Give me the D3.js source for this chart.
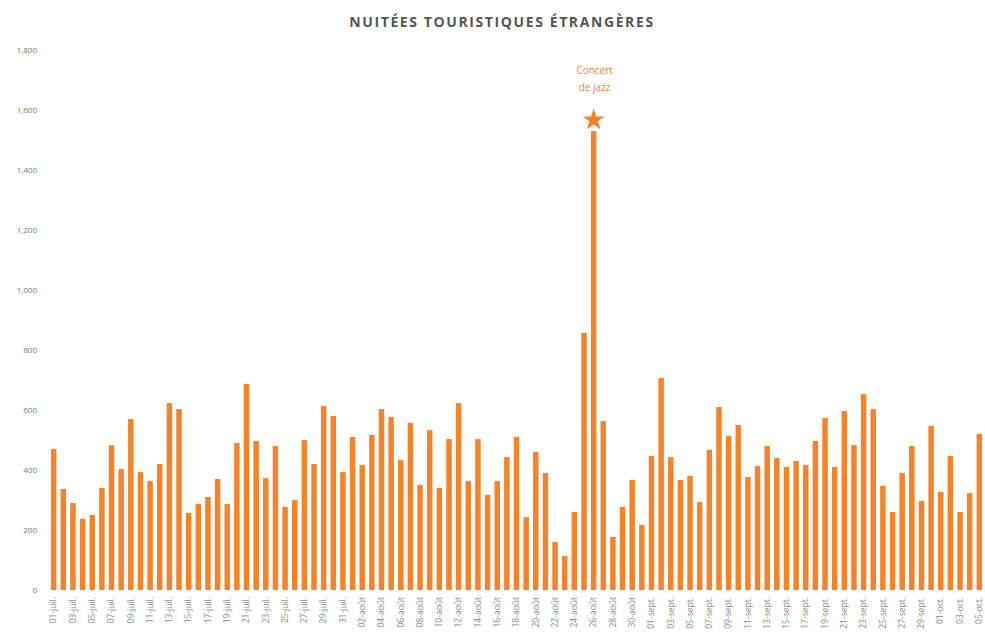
<!DOCTYPE html>
<html>
<head>
<meta charset="utf-8">
<script src="https://cdn.jsdelivr.net/npm/d3@7"></script>
<style>
  body { margin: 0; background: #fff; }
  svg { display: block; font-family: 'Open Sans', Lato, sans-serif; }
</style>
</head>
<body>
<div class="container"></div>
<script>
// nuitées par jour, du 1er juillet au 5 octobre
let startDay = new Date(2019, 6, 1);
let nights = [
  470, 337, 290, 237, 250, 340, 483, 403, 570, 393,
  363, 420, 623, 603, 257, 287, 310, 370, 287, 490,
  687, 497, 373, 480, 277, 300, 500, 420, 613, 580,
  393, 510, 417, 517, 603, 577, 433, 557, 350, 533,
  340, 503, 623, 363, 503, 317, 363, 443, 510, 243,
  460, 390, 160, 113, 260, 857, 1530, 563, 177, 277,
  367, 217, 447, 707, 443, 367, 380, 293, 467, 610,
  513, 550, 377, 413, 480, 440, 410, 430, 417, 497,
  573, 410, 597, 483, 653, 603, 347, 260, 390, 480,
  297, 547, 327, 447, 260, 323, 520
];
let yTicks = [0, 200, 400, 600, 800, 1000, 1200, 1400, 1600, 1800];
let frMonths = ['janv.', 'févr.', 'mars', 'avr.', 'mai', 'juin', 'juil.', 'août', 'sept.', 'oct.', 'nov.', 'déc.'];
let noteIndex = 56;
let noteLines = ['Concert', 'de jazz'];

let days = d3.timeDay.range(startDay, d3.timeDay.offset(startDay, nights.length));
let data = days.map((d, i) => ({ day: d, value: nights[i] }));
let dayLabel = (d) => d3.timeFormat('%d')(d) + '-' + frMonths[d.getMonth()];

let width = 985;
let height = 635;
let orange = '#f5832a';

let svg = d3
  .select('.container')
  .append('svg')
  .attr('width', width)
  .attr('height', height);

let xScale = d3
  .scaleBand()
  .domain(days)
  .range([49, 984])
  .paddingInner(0.43)
  .paddingOuter(0.2);

let yScale = d3.scaleLinear().domain([0, 1800]).range([590, 50]);

// titre
svg
  .append('text')
  .attr('x', 502)
  .attr('y', 27)
  .attr('text-anchor', 'middle')
  .style('font-size', '14px')
  .style('font-weight', 'bold')
  .style('letter-spacing', '1.6px')
  .style('fill', '#555')
  .text('NUITÉES TOURISTIQUES ÉTRANGÈRES');

// axe vertical, sans ligne
let yAxis = d3
  .axisLeft(yScale)
  .tickValues(yTicks)
  .tickFormat(d3.format(','))
  .tickSize(0)
  .tickPadding(0);

let yG = svg.append('g').attr('transform', 'translate(37,0)').call(yAxis);
yG.select('.domain').remove();
yG.selectAll('text')
  .style('font-size', '8px')
  .style('fill', '#777')
  .style('font-family', "'Open Sans', sans-serif");

// axe horizontal: une étiquette sur deux
let xAxis = d3
  .axisBottom(xScale)
  .tickValues(days.filter((d, i) => i % 2 === 0))
  .tickFormat(dayLabel)
  .tickSize(0)
  .tickPadding(0);

let xG = svg.append('g').attr('transform', 'translate(0,597)').call(xAxis);
xG.select('.domain').remove();
xG.selectAll('text')
  .attr('transform', 'rotate(-90)')
  .attr('text-anchor', 'end')
  .attr('x', 0)
  .attr('y', 0)
  .attr('dy', '0.32em')
  .style('font-size', '8.5px')
  .style('fill', '#888')
  .style('font-family', "'Open Sans', sans-serif");

// barres
svg
  .append('g')
  .selectAll('rect')
  .data(data)
  .enter()
  .append('rect')
  .attr('x', (d) => xScale(d.day))
  .attr('y', (d) => yScale(d.value))
  .attr('width', xScale.bandwidth())
  .attr('height', (d) => yScale(0) - yScale(d.value))
  .attr('fill', orange);

// annotation du pic
let peak = data[noteIndex];
let px = xScale(peak.day) + xScale.bandwidth() / 2;
let py = yScale(peak.value);

svg
  .append('path')
  .attr('d', d3.symbol().type(d3.symbolStar).size(150)())
  .attr('transform', 'translate(' + px + ',' + (py - 11) + ')')
  .attr('fill', orange);

svg
  .append('g')
  .selectAll('text')
  .data(noteLines)
  .enter()
  .append('text')
  .attr('x', px + 1)
  .attr('y', (d, i) => py - 57 + i * 17)
  .attr('text-anchor', 'middle')
  .style('font-size', '10px')
  .style('fill', orange)
  .text((d) => d);
</script>
</body>
</html>
